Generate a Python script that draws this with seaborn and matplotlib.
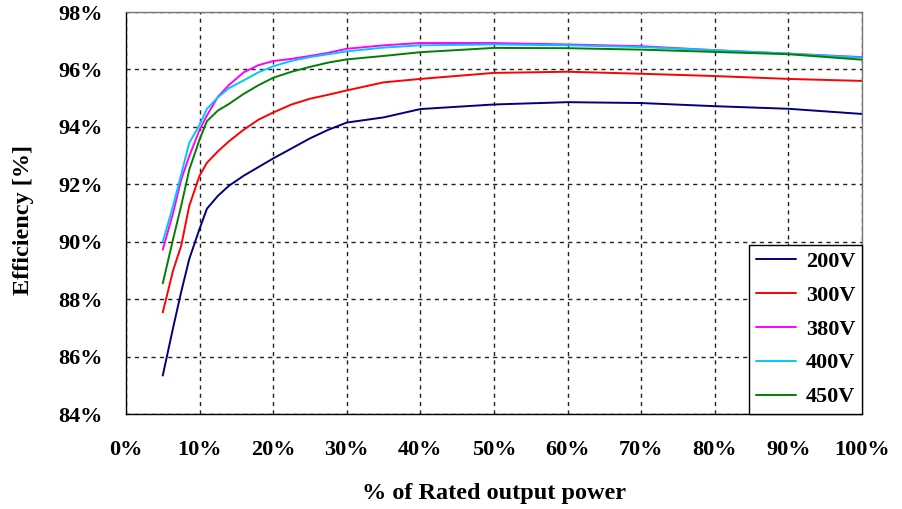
import matplotlib
matplotlib.use("Agg")
import matplotlib.pyplot as plt
import seaborn as sns
import pandas as pd

# ---- data ----
load_pct = [5, 6.4, 7.5, 8.6, 10, 11, 12.5, 14, 16, 18, 20, 22.5, 25, 27.5, 30,
            35, 40, 50, 60, 70, 80, 90, 100]
eff_200v = [85.34, 87.0, 88.25, 89.4, 90.45, 91.15, 91.6, 91.95, 92.3, 92.6, 92.9,
            93.25, 93.6, 93.9, 94.15, 94.33, 94.62, 94.78, 94.86, 94.83, 94.72, 94.63, 94.45]
eff_300v = [87.54, 89.0, 89.86, 91.25, 92.3, 92.75, 93.15, 93.5, 93.9, 94.25, 94.5,
            94.78, 94.98, 95.12, 95.27, 95.55, 95.67, 95.88, 95.92, 95.85, 95.77, 95.67, 95.6]
eff_380v = [89.72, 91.0, 92.16, 92.98, 93.9, 94.4, 95.05, 95.46, 95.9, 96.15, 96.29,
            96.37, 96.47, 96.58, 96.72, 96.84, 96.92, 96.92, 96.87, 96.81, 96.67, 96.55, 96.43]
eff_400v = [90.0, 91.25, 92.34, 93.44, 94.08, 94.63, 95.03, 95.35, 95.62, 95.9, 96.11,
            96.3, 96.43, 96.53, 96.63, 96.76, 96.84, 96.87, 96.84, 96.78, 96.67, 96.55, 96.41]
eff_450v = [88.55, 90.09, 91.25, 92.51, 93.56, 94.2, 94.57, 94.8, 95.15, 95.45, 95.71,
            95.92, 96.09, 96.24, 96.35, 96.47, 96.6, 96.75, 96.74, 96.69, 96.61, 96.53, 96.34]
series_names = ["200V", "300V", "380V", "400V", "450V"]
series_colors = ["#000080", "#FF0000", "#FF00FF", "#00C8FF", "#008000"]

x_ticks = [0, 10, 20, 30, 40, 50, 60, 70, 80, 90, 100]
x_tick_labels = ["0%", "10%", "20%", "30%", "40%", "50%", "60%", "70%", "80%", "90%", "100%"]
y_ticks = [84, 86, 88, 90, 92, 94, 96, 98]
y_tick_labels = ["84%", "86%", "88%", "90%", "92%", "94%", "96%", "98%"]

# ---- build long-form table ----
frames = []
for name, vals in zip(series_names, [eff_200v, eff_300v, eff_380v, eff_400v, eff_450v]):
    frames.append(pd.DataFrame({"load": load_pct, "eff": vals, "Voltage": name}))
df = pd.concat(frames, ignore_index=True)

sns.set_style("white")
plt.rcParams["font.family"] = ["Liberation Serif", "DejaVu Serif"]
for k in ["text.color", "axes.labelcolor", "xtick.color", "ytick.color"]:
    plt.rcParams[k] = "black"

fig = plt.figure(figsize=(9.03, 5.09), dpi=100)
ax = fig.add_axes([0.1395, 0.1866, 0.8151, 0.7898])

sns.lineplot(data=df, x="load", y="eff", hue="Voltage", hue_order=series_names,
             palette=dict(zip(series_names, series_colors)), linewidth=1.4, ax=ax,
             estimator=None, sort=False)

ax.set_xlim(0, 100)
ax.set_ylim(84, 98)
ax.set_xticks(x_ticks)
ax.set_xticklabels(x_tick_labels, fontsize=16, fontweight="bold")
ax.set_yticks(y_ticks)
ax.set_yticklabels(y_tick_labels, fontsize=16, fontweight="bold")
ax.tick_params(axis="x", direction="in", length=0, pad=19)
ax.tick_params(axis="y", direction="in", length=4, width=1, color="black", pad=16.5)

ax.grid(True, color="#222222", linestyle=(0, (3, 3)), linewidth=1.0)
for s in ["left", "bottom"]:
    ax.spines[s].set_color("black")
    ax.spines[s].set_linewidth(1.0)
for s in ["top", "right"]:
    ax.spines[s].set_color("#777777")
    ax.spines[s].set_linewidth(1.0)

ax.set_xlabel("% of Rated output power", fontsize=17.5, fontweight="bold", labelpad=16)
ax.set_ylabel("Efficiency [%]", fontsize=17.5, fontweight="bold", labelpad=17.5)
ax.yaxis.label.set_y(0.482)

leg = ax.legend(loc="lower right", borderaxespad=0, frameon=True,
                fancybox=False, handlelength=1.8, handletextpad=0.45,
                labelspacing=0.6, borderpad=0.3, prop={"weight": "bold", "size": 16})
leg.get_frame().set_edgecolor("black")
leg.get_frame().set_linewidth(1.0)
leg.get_frame().set_alpha(1)
leg.set_title(None)
for h in leg.get_lines():
    h.set_linewidth(1.4)

fig.savefig("out.png", dpi=100)
